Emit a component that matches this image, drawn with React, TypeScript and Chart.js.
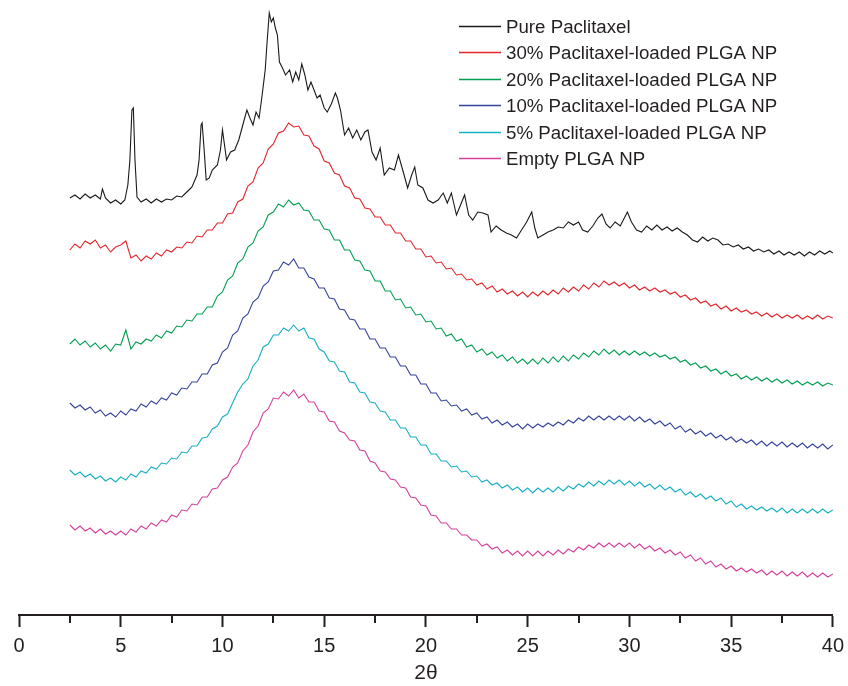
import React, { useEffect, useRef } from 'react';
import { Chart, registerables } from 'chart.js';

Chart.register(...registerables);

// 2θ scan grid (degrees) shared by the PLGA NP patterns
const twoTheta = [
  2.5, 2.75, 3, 3.25, 3.5, 3.75, 4, 4.25, 4.5, 4.75, 5, 5.25, 5.5, 5.75, 6, 6.25, 6.5, 6.75, 7, 7.25,
  7.5, 7.75, 8, 8.25, 8.5, 8.75, 9, 9.25, 9.5, 9.75, 10, 10.25, 10.5, 10.75, 11, 11.25, 11.5, 11.75, 12, 12.25,
  12.5, 12.75, 13, 13.25, 13.5, 13.75, 14, 14.25, 14.5, 14.75, 15, 15.25, 15.5, 15.75, 16, 16.25, 16.5, 16.75, 17, 17.25,
  17.5, 17.75, 18, 18.25, 18.5, 18.75, 19, 19.25, 19.5, 19.75, 20, 20.25, 20.5, 20.75, 21, 21.25, 21.5, 21.75, 22, 22.25,
  22.5, 22.75, 23, 23.25, 23.5, 23.75, 24, 24.25, 24.5, 24.75, 25, 25.25, 25.5, 25.75, 26, 26.25, 26.5, 26.75, 27, 27.25,
  27.5, 27.75, 28, 28.25, 28.5, 28.75, 29, 29.25, 29.5, 29.75, 30, 30.25, 30.5, 30.75, 31, 31.25, 31.5, 31.75, 32, 32.25,
  32.5, 32.75, 33, 33.25, 33.5, 33.75, 34, 34.25, 34.5, 34.75, 35, 35.25, 35.5, 35.75, 36, 36.25, 36.5, 36.75, 37, 37.25,
  37.5, 37.75, 38, 38.25, 38.5, 38.75, 39, 39.25, 39.5, 39.75, 40,
];

// Pure paclitaxel has its own (finer) sampling around the sharp crystalline peaks
const pureTheta = [
  2.5, 2.75, 3.0, 3.25, 3.5, 3.75, 4.0, 4.1, 4.25, 4.5, 4.75, 5.0, 5.2, 5.35, 5.45, 5.55, 5.62, 5.7, 5.8, 6.0,
  6.25, 6.5, 6.75, 7.0, 7.25, 7.5, 7.75, 8.0, 8.25, 8.5, 8.75, 8.85, 8.95, 9.0, 9.1, 9.2, 9.35, 9.5, 9.75, 9.9,
  10.0, 10.1, 10.2, 10.4, 10.6, 10.8, 11.0, 11.2, 11.35, 11.5, 11.65, 11.8, 11.95, 12.1, 12.2, 12.3, 12.4, 12.5, 12.6, 12.7,
  12.8, 12.95, 13.1, 13.3, 13.45, 13.6, 13.75, 13.9, 14.05, 14.2, 14.35, 14.5, 14.65, 14.8, 15.0, 15.15, 15.35, 15.55, 15.65, 15.8,
  16.0, 16.2, 16.4, 16.6, 16.8, 17.0, 17.15, 17.35, 17.55, 17.75, 17.95, 18.2, 18.45, 18.65, 18.9, 19.1, 19.3, 19.45, 19.6, 19.85,
  20.1, 20.35, 20.6, 20.85, 21.05, 21.25, 21.5, 21.7, 21.9, 22.1, 22.3, 22.55, 22.8, 23.05, 23.2, 23.45, 23.7, 23.95, 24.2, 24.45,
  24.7, 24.95, 25.2, 25.35, 25.5, 25.75, 26.0, 26.25, 26.5, 26.75, 27.0, 27.25, 27.5, 27.7, 27.95, 28.2, 28.45, 28.65, 28.85, 29.05,
  29.3, 29.55, 29.75, 29.9, 30.1, 30.35, 30.6, 30.85, 31.1, 31.35, 31.6, 31.85, 32.1, 32.35, 32.6, 32.85, 33.1, 33.35, 33.6, 33.85,
  34.1, 34.35, 34.6, 34.85, 35.1, 35.35, 35.6, 35.85, 36.1, 36.35, 36.6, 36.85, 37.1, 37.35, 37.6, 37.85, 38.1, 38.35, 38.6, 38.85,
  39.1, 39.35, 39.6, 39.85, 40.0,
];

// Intensities (arbitrary units, curves stacked with vertical offsets)
const purePaclitaxel = [
  416, 419, 415, 420, 416, 419, 415, 425, 416, 411, 414, 410, 414, 429, 454, 504, 506, 454, 417, 412,
  415, 411, 415, 412, 415, 414, 418, 417, 422, 427, 439, 454, 489, 491, 464, 434, 436, 444, 449, 464,
  484, 469, 454, 462, 464, 474, 489, 504, 496, 489, 502, 496, 519, 544, 574, 601, 592, 596, 586, 579,
  552, 546, 539, 544, 532, 542, 534, 550, 539, 524, 532, 524, 516, 519, 506, 502, 510, 521, 516, 504,
  479, 486, 476, 484, 474, 482, 484, 462, 454, 466, 439, 446, 444, 459, 441, 426, 439, 447, 429, 426,
  414, 411, 414, 421, 411, 421, 399, 409, 419, 399, 394, 402, 401, 399, 382, 388, 384, 381, 379, 376,
  384, 392, 402, 386, 376, 379, 382, 384, 387, 386, 392, 389, 392, 384, 382, 388, 396, 400, 390, 386,
  392, 388, 396, 402, 392, 384, 382, 388, 384, 389, 384, 387, 383, 386, 382, 379, 374, 372, 377, 373,
  376, 374, 369, 370, 367, 369, 365, 367, 363, 365, 362, 364, 360, 363, 359, 362, 359, 362, 358, 362,
  359, 363, 360, 363, 361,
];

const np30 = [
  364, 370, 366, 373, 370, 374, 366, 369, 362, 367, 369,
  373, 356, 359, 353, 358, 355, 361, 358, 364, 362,
  367, 366, 372, 371, 378, 377, 384, 384, 391, 391,
  400, 401, 412, 415, 428, 432, 446, 451, 465, 470,
  481, 483, 491, 487, 488, 479, 478, 468, 465, 453,
  451, 441, 439, 428, 426, 416, 415, 406, 405, 397,
  397, 389, 389, 381, 381, 373, 373, 365, 365, 357,
  358, 351, 352, 345, 346, 339, 340, 334, 335, 329,
  331, 325, 328, 322, 325, 320, 323, 318, 322, 317,
  322, 318, 323, 319, 324, 320, 326, 322, 327, 323,
  329, 325, 331, 327, 333, 329, 332, 328, 331, 326,
  329, 324, 327, 323, 326, 322, 324, 320, 322, 317,
  319, 314, 316, 311, 313, 308, 310, 305, 308, 303,
  306, 302, 304, 300, 302, 298, 301, 297, 300, 296,
  299, 296, 299, 295, 298, 295, 299, 295, 298, 296,
];

const np20 = [
  270, 275, 269, 273, 267, 271, 265, 269, 263, 270, 269,
  284, 265, 272, 270, 275, 273, 279, 276, 283, 281,
  288, 287, 294, 293, 300, 300, 307, 307, 318, 322,
  334, 338, 351, 355, 367, 371, 383, 387, 399, 402,
  410, 407, 414, 409, 411, 404, 403, 394, 394, 385,
  384, 374, 374, 364, 364, 354, 353, 344, 343, 333,
  333, 323, 323, 314, 315, 306, 307, 299, 300, 292,
  293, 285, 286, 278, 280, 273, 275, 267, 269, 262,
  265, 259, 262, 256, 259, 253, 257, 251, 255, 250,
  255, 250, 256, 251, 257, 252, 258, 253, 259, 255,
  261, 257, 263, 259, 265, 260, 264, 259, 263, 259,
  263, 259, 262, 258, 261, 257, 259, 255, 257, 252,
  254, 249, 251, 246, 248, 243, 245, 240, 243, 238,
  240, 235, 238, 234, 237, 233, 236, 232, 235, 231,
  234, 230, 233, 229, 232, 229, 232, 228, 231, 229,
];

const np10 = [
  211, 206, 209, 204, 207, 201, 204, 198, 201, 197, 203,
  199, 205, 203, 210, 207, 213, 210, 216, 214, 221,
  219, 226, 225, 232, 232, 240, 240, 249, 251, 262,
  266, 279, 283, 296, 300, 312, 316, 328, 332, 343,
  344, 352, 349, 355, 346, 346, 337, 335, 326, 326,
  316, 315, 305, 304, 295, 294, 285, 285, 275, 275,
  266, 266, 257, 257, 248, 248, 239, 239, 230, 230,
  221, 221, 213, 214, 208, 209, 203, 205, 199, 201,
  195, 197, 191, 194, 189, 192, 187, 190, 185, 190,
  186, 190, 187, 191, 188, 192, 189, 194, 191, 196,
  193, 198, 194, 198, 194, 198, 194, 198, 194, 198,
  193, 197, 192, 195, 190, 193, 188, 191, 185, 188,
  182, 185, 180, 183, 178, 181, 176, 179, 174, 177,
  172, 175, 171, 174, 169, 173, 168, 172, 168, 172,
  167, 171, 167, 171, 166, 170, 166, 170, 165, 169,
];

const np5 = [
  144, 139, 142, 137, 140, 135, 138, 133, 136, 132, 137,
  134, 140, 137, 143, 141, 147, 145, 151, 150, 156,
  155, 162, 161, 168, 168, 176, 177, 185, 188, 197,
  200, 211, 222, 230, 235, 248, 254, 267, 270, 279,
  279, 286, 283, 289, 283, 286, 276, 275, 265, 262,
  253, 252, 243, 242, 232, 231, 222, 221, 212, 211,
  203, 202, 194, 194, 186, 186, 177, 177, 169, 169,
  160, 160, 153, 153, 147, 148, 142, 143, 137, 138,
  132, 134, 129, 131, 126, 129, 124, 127, 122, 126,
  121, 126, 122, 126, 122, 127, 123, 128, 125, 130,
  127, 132, 128, 133, 129, 134, 130, 134, 129, 133,
  128, 132, 127, 130, 125, 129, 124, 127, 122, 125,
  119, 122, 117, 120, 115, 118, 113, 116, 110, 113,
  107, 110, 105, 108, 104, 107, 103, 106, 102, 106,
  101, 105, 101, 105, 101, 105, 101, 105, 101, 104,
];

const emptyNP = [
  89, 84, 88, 83, 86, 81, 85, 80, 83, 79, 83,
  79, 85, 82, 88, 85, 91, 88, 94, 92, 99,
  97, 104, 103, 110, 109, 117, 117, 125, 126, 134,
  137, 147, 151, 163, 169, 182, 188, 201, 205, 216,
  215, 222, 218, 224, 216, 220, 212, 212, 203, 202,
  193, 192, 183, 181, 174, 173, 164, 163, 153, 151,
  143, 142, 135, 134, 127, 126, 117, 116, 109, 108,
  99, 98, 91, 91, 85, 85, 79, 79, 74, 74,
  68, 70, 65, 67, 61, 64, 59, 63, 58, 63,
  58, 63, 58, 63, 59, 64, 60, 65, 62, 67,
  64, 69, 66, 71, 67, 71, 67, 71, 67, 71,
  66, 70, 65, 68, 63, 66, 61, 64, 59, 62,
  56, 59, 53, 56, 50, 53, 47, 50, 45, 48,
  43, 46, 42, 45, 41, 44, 39, 43, 39, 43,
  38, 42, 38, 42, 37, 41, 37, 41, 37, 40,
];

const seriesLabels = [
  'Pure Paclitaxel',
  '30% Paclitaxel-loaded PLGA NP',
  '20% Paclitaxel-loaded PLGA NP',
  '10% Paclitaxel-loaded PLGA NP',
  '5% Paclitaxel-loaded PLGA NP',
  'Empty PLGA NP',
];
const seriesColors = ['#1a1a1a', '#e3262c', '#00a050', '#36439a', '#17b0c4', '#d4419c'];

const xTicks = [0, 5, 10, 15, 20, 25, 30, 35, 40];
const xMinorTicks = [2.5, 7.5, 12.5, 17.5, 22.5, 27.5, 32.5, 37.5];
const xTitle = '2θ';

const INK = '#231f20';

export default function App() {
  const ref = useRef<HTMLCanvasElement | null>(null);

  useEffect(() => {
    const canvas = ref.current;
    if (!canvas) return;

    const toPoints = (xs: number[], ys: number[]) => xs.map((x, i) => ({ x, y: ys[i] }));
    const seriesValues = [purePaclitaxel, np30, np20, np10, np5, emptyNP];

    const datasets = seriesValues.map((vals, i) => ({
      label: seriesLabels[i],
      data: i === 0 ? toPoints(pureTheta, vals) : toPoints(twoTheta, vals),
      borderColor: seriesColors[i],
      backgroundColor: seriesColors[i],
      borderWidth: 1.1,
      pointRadius: 0,
      tension: 0,
      fill: false,
    }));

    const minorTickPlugin = {
      id: 'minorTicks',
      afterDraw(chart: any) {
        const { ctx, chartArea } = chart;
        const xs = chart.scales.x;
        ctx.save();
        ctx.strokeStyle = INK;
        ctx.lineWidth = 2;
        xMinorTicks.forEach((v) => {
          const px = Math.round(xs.getPixelForValue(v));
          ctx.beginPath();
          ctx.moveTo(px, chartArea.bottom);
          ctx.lineTo(px, chartArea.bottom + 8);
          ctx.stroke();
        });
        ctx.restore();
      },
    };

    const legendPlugin = {
      id: 'insetLegend',
      afterDraw(chart: any) {
        const { ctx } = chart;
        ctx.save();
        ctx.font = '18.7px "Liberation Sans", Arial, sans-serif';
        ctx.textBaseline = 'middle';
        ctx.textAlign = 'left';
        seriesLabels.forEach((label, i) => {
          const y = Math.round(25.5 + i * 26.5);
          ctx.strokeStyle = seriesColors[i];
          ctx.lineWidth = 1.5;
          ctx.beginPath();
          ctx.moveTo(459, y + 0.5);
          ctx.lineTo(501, y + 0.5);
          ctx.stroke();
          ctx.fillStyle = INK;
          ctx.fillText(label, 506, y + 2);
        });
        ctx.restore();
      },
    };

    const chart = new Chart(canvas, {
      type: 'line',
      data: { datasets },
      plugins: [minorTickPlugin, legendPlugin],
      options: {
        responsive: false,
        animation: false,
        devicePixelRatio: 1,
        layout: { padding: { left: 19, right: 15, top: 10, bottom: 0 } },
        plugins: {
          legend: { display: false },
          tooltip: { enabled: false },
          title: { display: false },
        },
        scales: {
          x: {
            type: 'linear',
            min: 0,
            max: 40,
            afterBuildTicks: (scale: any) => {
              scale.ticks = xTicks.map((v) => ({ value: v }));
            },
            afterFit: (scale: any) => {
              scale.height = 71;
            },
            ticks: {
              stepSize: 5,
              color: INK,
              padding: 4,
              maxRotation: 0,
              font: { family: '"Liberation Sans", Arial, sans-serif', size: 20, lineHeight: 1.5 },
            },
            grid: {
              display: true,
              drawOnChartArea: false,
              drawTicks: true,
              tickLength: 12,
              tickWidth: 2,
              tickColor: INK,
            },
            border: { display: true, width: 2, color: INK },
            title: {
              display: true,
              text: xTitle,
              color: INK,
              padding: { top: 0, bottom: 0 },
              font: { family: '"Liberation Sans", Arial, sans-serif', size: 21 },
            },
          },
          y: {
            type: 'linear',
            display: false,
            min: -1,
            max: 604,
          },
        },
      },
    });

    return () => chart.destroy();
  }, []);

  return (
    <div style={{ position: 'absolute', left: 0, top: 0, width: 848, height: 686, background: '#ffffff' }}>
      <canvas ref={ref} width={848} height={686} style={{ display: 'block' }} />
    </div>
  );
}
